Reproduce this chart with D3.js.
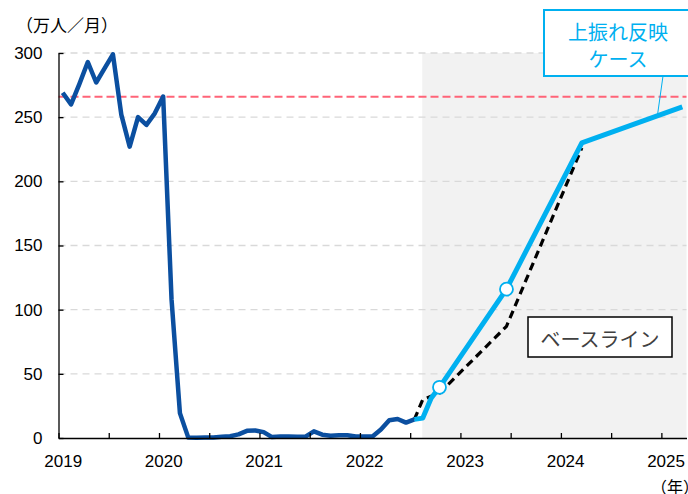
<!DOCTYPE html>
<html>
<head>
<meta charset="utf-8">
<script src="https://cdn.jsdelivr.net/npm/d3@7"></script>
<style>
  body { margin: 0; background: #fff; }
  svg { display: block; font-family: "Liberation Sans", Arial, "Noto Sans CJK JP", sans-serif; }
</style>
</head>
<body>
<script>
// monthly arrivals, Jan 2019 .. Jul 2022 (万人)
const actualStart = "2019-01";
const actualValues = [
  269, 260, 276, 293, 277, 288, 299, 252, 227, 250, 244, 253,
  266, 108, 19.4, 0.3, 0.2, 0.3, 0.4, 0.9, 1.4, 2.8, 5.6, 5.9,
  4.6, 0.7, 1.2, 1.1, 1.0, 1.0, 5.2, 2.6, 1.8, 2.2, 2.1, 1.2,
  1.2, 1.2, 6.6, 13.9, 14.8, 12.0, 14.5
];

// 上振れ反映ケース
const upsideMonths = ["2022-07", "2022-08", "2022-09", "2022-10", "2023-06", "2024-03", "2025-03"];
const upsideValues = [14.5, 15.5, 31, 39.5, 116, 230, 258];
const markerMonths = ["2022-10", "2023-06"];

// ベースライン
const baseMonths = ["2022-07", "2022-08", "2022-09", "2022-10", "2023-06", "2024-03"];
const baseValues = [14.5, 30, 32.5, 35, 87, 226];

const level2019 = 266;          // 2019年平均
const forecastStart = 2022.62;  // shaded area begins
const yearLabels = ["2019", "2020", "2021", "2022", "2023", "2024", "2025"];
const yTicks = [0, 50, 100, 150, 200, 250, 300];

const width = 688, height = 494;
const margin = { left: 58.5, right: 1.5, top: 53, bottom: 56 };

// "YYYY-MM" -> decimal year at mid-month
const toYear = s => {
  const [y, m] = s.split("-").map(Number);
  return y + (m - 1 + 0.5) / 12;
};

const svg = d3.select("body").append("svg")
  .attr("width", width)
  .attr("height", height);

const x = d3.scaleLinear()
  .domain([2019, 2025.25])
  .range([margin.left, width - margin.right]);

const y = d3.scaleLinear()
  .domain([0, 300])
  .range([height - margin.bottom, margin.top]);

const x0 = toYear(actualStart);
const actual = actualValues.map((v, i) => ({ t: x0 + i / 12, v }));
const upside = upsideMonths.map((m, i) => ({ t: toYear(m), v: upsideValues[i] }));
const base = baseMonths.map((m, i) => ({ t: toYear(m), v: baseValues[i] }));
const markers = upside.filter(d => markerMonths.some(m => toYear(m) === d.t));

// shaded forecast period
svg.append("rect")
  .attr("x", x(forecastStart))
  .attr("y", y(300))
  .attr("width", x(2025.25) - x(forecastStart))
  .attr("height", y(0) - y(300))
  .attr("fill", "#f2f2f2");

// gridlines
svg.append("g")
  .selectAll("line")
  .data(yTicks.filter(d => d > 0))
  .join("line")
  .attr("x1", x(2019))
  .attr("x2", x(2025.25))
  .attr("y1", d => y(d))
  .attr("y2", d => y(d))
  .attr("stroke", "#d9d9d9")
  .attr("stroke-width", 1.3)
  .attr("stroke-dasharray", "7,5");

// 2019 level
svg.append("line")
  .attr("x1", x(2019))
  .attr("x2", x(2025.25))
  .attr("y1", y(level2019))
  .attr("y2", y(level2019))
  .attr("stroke", "#ff6478")
  .attr("stroke-width", 2)
  .attr("stroke-dasharray", "8,4");

const line = d3.line()
  .x(d => x(d.t))
  .y(d => y(d.v));

svg.append("path")
  .datum(base)
  .attr("fill", "none")
  .attr("stroke", "#000")
  .attr("stroke-width", 3.2)
  .attr("stroke-dasharray", "8,5")
  .attr("d", line);

svg.append("path")
  .datum(actual)
  .attr("fill", "none")
  .attr("stroke", "#0b4fa0")
  .attr("stroke-width", 4.5)
  .attr("stroke-linejoin", "round")
  .attr("d", line);

svg.append("path")
  .datum(upside)
  .attr("fill", "none")
  .attr("stroke", "#00b0f0")
  .attr("stroke-width", 5)
  .attr("stroke-linejoin", "round")
  .attr("d", line);

svg.append("g")
  .selectAll("circle")
  .data(markers)
  .join("circle")
  .attr("cx", d => x(d.t))
  .attr("cy", d => y(d.v))
  .attr("r", 6.5)
  .attr("fill", "#fff")
  .attr("stroke", "#00b0f0")
  .attr("stroke-width", 1.8);

// axes
const xAxis = d3.axisBottom(x)
  .tickValues(d3.range(2019, 2025.01, 0.5))
  .tickSizeInner(-5)
  .tickSizeOuter(0)
  .tickPadding(20)
  .tickFormat(d => Number.isInteger(d) ? yearLabels[d - 2019] : "");

const gx = svg.append("g")
  .attr("transform", `translate(0,${y(0)})`)
  .call(xAxis);
gx.selectAll("text")
  .attr("dx", x(0.5 / 12) - x(0))
  .attr("dy", "0.55em")
  .style("font-size", "17px")
  .attr("fill", "#000");

const yAxis = d3.axisLeft(y)
  .tickValues(yTicks)
  .tickSizeInner(-5)
  .tickSizeOuter(0)
  .tickPadding(16);

const gy = svg.append("g")
  .attr("transform", `translate(${x(2019)},0)`)
  .call(yAxis);
gy.selectAll("text")
  .style("font-size", "17px")
  .attr("fill", "#000");

[gx, gy].forEach(g => {
  g.select(".domain").attr("stroke", "#000").attr("stroke-width", 1.3);
  g.selectAll(".tick line").attr("stroke", "#000").attr("stroke-width", 1.3);
});

// unit labels
svg.append("text")
  .attr("x", 16)
  .attr("y", 32)
  .style("font-size", "17px")
  .style("font-family", "'Noto Sans CJK JP', sans-serif")
  .text("（万人／月）");

svg.append("text")
  .attr("x", 651)
  .attr("y", 493)
  .style("font-size", "16px")
  .style("font-family", "'Noto Sans CJK JP', sans-serif")
  .text("（年）");

// ベースライン label
const baseBox = svg.append("g");
baseBox.append("rect")
  .attr("x", 528).attr("y", 317)
  .attr("width", 144).attr("height", 40)
  .attr("fill", "#fff")
  .attr("stroke", "#000")
  .attr("stroke-width", 1.5);
baseBox.append("text")
  .attr("x", 600).attr("y", 338)
  .attr("text-anchor", "middle")
  .attr("dominant-baseline", "central")
  .style("font-size", "20px")
  .style("font-family", "'Noto Sans CJK JP', sans-serif")
  .attr("fill", "#404040")
  .text("ベースライン");

// 上振れ反映ケース label with leader
svg.append("line")
  .attr("x1", 663).attr("y1", 76)
  .attr("x2", x(toYear("2024-12"))).attr("y2", y(250))
  .attr("stroke", "#00b0f0")
  .attr("stroke-width", 1);

const upBox = svg.append("g");
upBox.append("rect")
  .attr("x", 544).attr("y", 10)
  .attr("width", 150).attr("height", 66)
  .attr("fill", "#fff")
  .attr("stroke", "#00b0f0")
  .attr("stroke-width", 2);
upBox.selectAll("text")
  .data(["上振れ反映", "ケース"])
  .join("text")
  .attr("x", 618)
  .attr("y", (d, i) => 31 + i * 27)
  .attr("text-anchor", "middle")
  .attr("dominant-baseline", "central")
  .style("font-size", "20px")
  .style("font-family", "'Noto Sans CJK JP', sans-serif")
  .attr("fill", "#00b0f0")
  .text(d => d);
</script>
</body>
</html>
